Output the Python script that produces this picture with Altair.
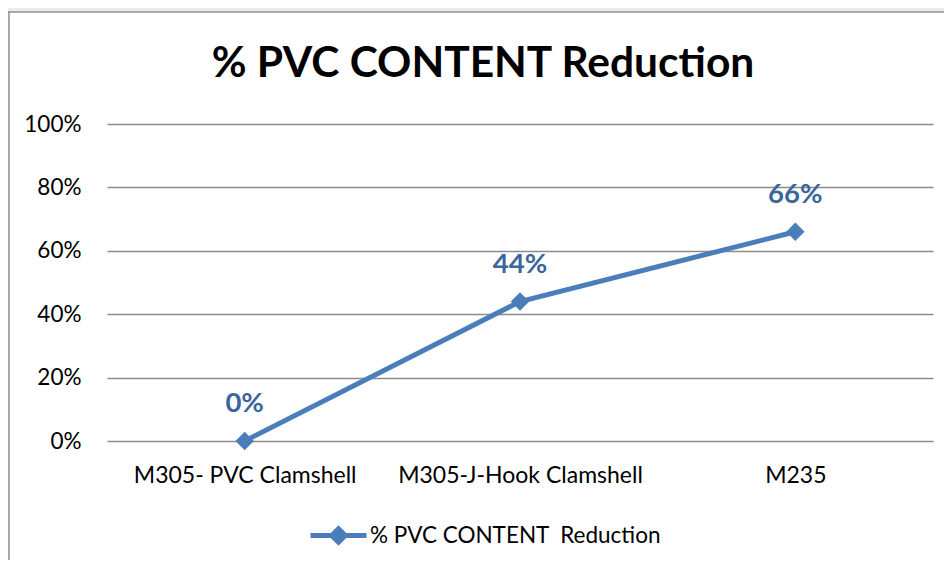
import altair as alt
import pandas as pd

categories = ["M305- PVC Clamshell", "M305-J-Hook Clamshell", "M235"]
values = [0.0, 0.44, 0.66]
labels = ["0%", "44%", "66%"]
series_name = "% PVC CONTENT\u00a0 Reduction"
title_text = "% PVC CONTENT Reduction"
y_ticks = [0, 0.2, 0.4, 0.6, 0.8, 1.0]

LINE = "#4A7EBB"
LABEL = "#3B669C"
GRID = "#8c8c8c"
FONT = "Lato"

df = pd.DataFrame({"category": categories, "value": values, "label": labels,
                   "series": [series_name] * len(categories)})
one = pd.DataFrame({"t": [title_text]})

x_enc = alt.X("category:N", sort=categories,
              scale=alt.Scale(type="point", padding=0.5),
              axis=alt.Axis(title=None, labelAngle=0, ticks=False, domain=False, grid=False,
                            labelPadding=23, labelFontSize=23, labelFont=FONT,
                            labelColor="black", labelLimit=0))
y_enc = alt.Y("value:Q", scale=alt.Scale(domain=[0, 1]),
              axis=alt.Axis(title=None, format=".0%", values=y_ticks, ticks=False, domain=False,
                            labelPadding=26, labelFontSize=22.5, labelFont=FONT,
                            labelColor="black", gridColor=GRID, gridWidth=1.6))

base = alt.Chart(df)

legend_symbol = "M-1,0H1M-0.24,0L0,-0.24L0.24,0L0,0.24Z"

line = base.mark_line(strokeWidth=5).encode(
    x=x_enc, y=y_enc,
    color=alt.Color("series:N", scale=alt.Scale(range=[LINE]),
                    legend=alt.Legend(title=None, orient="none", legendX=201, legendY=381,
                                      symbolType=legend_symbol, symbolSize=3136,
                                      symbolStrokeWidth=5, symbolFillColor=LINE,
                                      symbolStrokeColor=LINE,
                                      labelFont=FONT, labelFontSize=22.5, labelColor="black",
                                      labelOffset=1, padding=0, labelLimit=0)))

points = base.mark_point(shape="diamond", filled=True, size=340, color=LINE, opacity=1).encode(
    x=alt.X("category:N", sort=categories), y="value:Q")

texts = base.mark_text(font=FONT, fontSize=27.5, fontWeight="bold", color=LABEL, dy=-37,
                       baseline="middle").encode(
    x=alt.X("category:N", sort=categories), y="value:Q", text="label:N")

title = alt.Chart(one).mark_text(font=FONT, fontSize=42.5, fontWeight="bold", color="black",
                                 baseline="alphabetic", align="center").encode(
    x=alt.value(376), y=alt.value(-47), text="t:N")

band = alt.Chart(one).mark_rect(color="#ececec").encode(
    x=alt.value(-99), x2=alt.value(837), y=alt.value(-116), y2=alt.value(-113))
top_border = alt.Chart(one).mark_rule(color=GRID, strokeWidth=1.5).encode(
    x=alt.value(-99), x2=alt.value(837), y=alt.value(-112))
left_border = alt.Chart(one).mark_rule(color=GRID, strokeWidth=1.5).encode(
    x=alt.value(-98), y=alt.value(-112), y2=alt.value(440))

chart = alt.layer(band, top_border, left_border, line, points, texts, title).properties(
    width=826, height=317,
    autosize=alt.AutoSizeParams(type="none"),
    padding={"left": 99, "top": 116, "right": 11, "bottom": 119},
    background="white",
).configure_view(strokeWidth=0)

chart.save("out.html", embed_options={"renderer": "svg", "actions": False})
